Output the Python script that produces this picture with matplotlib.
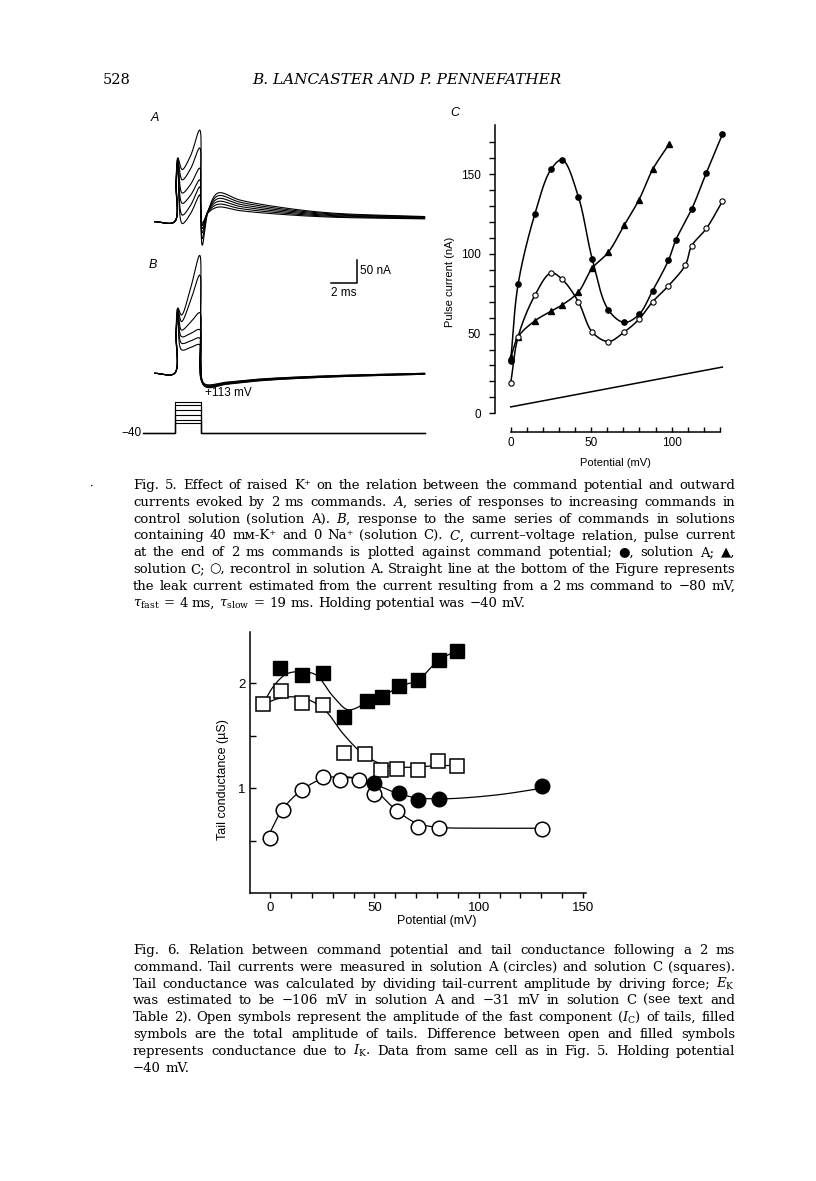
import numpy as np
import matplotlib
matplotlib.use("Agg")
import matplotlib.pyplot as plt

plt.rcParams['mathtext.fontset'] = 'dejavuserif'
plt.rcParams['font.family'] = ['DejaVu Serif', 'DejaVu Sans']

W, H, DPI = 816, 1181, 100
SANS = ['Liberation Sans', 'DejaVu Sans']
SERIF = ['DejaVu Serif', 'DejaVu Sans']

# ---------------- Fig. 5 A / B : current sweeps (nA, from holding current) ----------------
sweep_cmd = [113, 97, 73, 49, 25, 9]          # command potential, mV (holding -40 mV)
a_spike = [136, 133, 130, 126, 122, 118]
a_dip = [111, 89, 61, 39, 14, -4]
a_end = [195, 157, 114, 89, 74, 57]
a_tail_min = [-50, -36, -24, -15, -8, -3]
a_tail_hump = [61, 55, 49, 43, 37, 31]
a_tail_end = [11, 10, 9, 8, 7, 6]

b_spike = [139, 136, 133, 130, 127, 124]
b_dip = [124, 110, 92, 78, 64, 50]
b_end = [251, 209, 129, 93, 75, 61]
b_tail_min = [-27, -26, -25, -24, -23, -22]
b_tail_end = [-2, -2, -1, -1, 0, 0]

# ---------------- Fig. 5 C : pulse current vs potential ----------------
pot_a = [0, 4.6, 15, 25, 32, 42, 50.6, 60.6, 70.5, 79.7, 88.2, 98, 102.7, 112.4, 121.6, 131.5]
cur_a = [33, 81, 125, 153, 159, 136, 97, 65, 57, 62, 77, 96, 109, 128, 151, 175]
pot_c = [0, 4.6, 15, 25, 32, 42, 50.6, 60.6, 70.5, 79.7, 88.2, 98.5]
cur_c = [35, 48, 58, 64, 68, 76, 91, 101, 118, 134, 153, 169]
pot_r = [0, 4.6, 15, 25, 32, 42, 50.6, 60.6, 70.5, 79.7, 88.2, 98, 108.5, 112.4, 121.6, 131.5]
cur_r = [19, 48, 74, 88, 84, 70, 51, 45, 51, 59, 70, 80, 93, 105, 116, 133]
leak_pot = [0, 131.5]
leak_cur = [4, 29]

# ---------------- Fig. 6 : tail conductance ----------------
sq_f_x = [4.8, 15.5, 25.6, 35.6, 46.3, 53.7, 61.7, 70.8, 80.8, 89.5]
sq_f_y = [2.15, 2.08, 2.10, 1.68, 1.83, 1.87, 1.97, 2.03, 2.22, 2.31]
sq_o_x = [-3.5, 5.3, 15.2, 25.6, 35.6, 45.7, 53.0, 61.0, 71.0, 80.7, 89.5]
sq_o_y = [1.80, 1.93, 1.81, 1.79, 1.34, 1.33, 1.17, 1.18, 1.17, 1.26, 1.21]
ci_o_x = [0, 6, 15.3, 25.6, 33.5, 42.8, 49.8, 61, 71, 80.8, 130.2]
ci_o_y = [0.53, 0.79, 0.98, 1.11, 1.08, 1.08, 0.95, 0.78, 0.63, 0.62, 0.61]
ci_f_x = [49.8, 61.7, 71, 80.8, 130.2]
ci_f_y = [1.05, 0.96, 0.89, 0.90, 1.02]

# hand-drawn fit curves (knots)
fit_sq_f_x = [-3.5, 2, 8, 15, 22, 30, 37, 42, 46.3, 53.7, 61.7, 70.8, 80.8, 89.5]
fit_sq_f_y = [1.80, 1.98, 2.09, 2.11, 2.08, 1.88, 1.75, 1.77, 1.83, 1.87, 1.97, 2.03, 2.22, 2.31]
fit_sq_o_x = [-3.5, 5, 12, 20, 27, 35, 45, 55, 65, 75, 89.5]
fit_sq_o_y = [1.80, 1.86, 1.87, 1.83, 1.73, 1.52, 1.32, 1.22, 1.20, 1.21, 1.22]
fit_ci_o_x = [0, 6, 15, 25, 33, 42, 50, 60, 70, 80, 100, 130.2]
fit_ci_o_y = [0.58, 0.80, 0.98, 1.09, 1.11, 1.09, 0.99, 0.80, 0.67, 0.63, 0.62, 0.62]
fit_ci_f_x = [33, 42, 50, 60, 70, 80, 90, 110, 130.2]
fit_ci_f_y = [1.11, 1.09, 1.04, 0.96, 0.91, 0.90, 0.905, 0.94, 1.00]

cap5 = [
    "Fig. 5. Effect of raised K\u207a on the relation between the command potential and outward",
    "currents evoked by 2 ms commands. $A$, series of responses to increasing commands in",
    "control solution (solution A). $B$, response to the same series of commands in solutions",
    "containing 40 m\u1d0d-K\u207a and 0 Na\u207a (solution C). $C$, current\u2013voltage relation, pulse current",
    "at the end of 2 ms commands is plotted against command potential; \u25cf, solution A; \u25b2,",
    "solution C; \u25cb, recontrol in solution A. Straight line at the bottom of the Figure represents",
    "the leak current estimated from the current resulting from a 2 ms command to \u221280 mV,",
    "$\\tau_{\\mathrm{fast}}$ = 4 ms, $\\tau_{\\mathrm{slow}}$ = 19 ms. Holding potential was \u221240 mV.",
]
cap6 = [
    "Fig. 6. Relation between command potential and tail conductance following a 2 ms",
    "command. Tail currents were measured in solution A (circles) and solution C (squares).",
    "Tail conductance was calculated by dividing tail-current amplitude by driving force; $E_{\\mathrm{K}}$",
    "was estimated to be \u2212106 mV in solution A and \u221231 mV in solution C (see text and",
    "Table 2). Open symbols represent the amplitude of the fast component ($I_{\\mathrm{C}}$) of tails, filled",
    "symbols are the total amplitude of tails. Difference between open and filled symbols",
    "represents conductance due to $I_{\\mathrm{K}}$. Data from same cell as in Fig. 5. Holding potential",
    "\u221240 mV.",
]


def smooth(xs, ys, sx=1.0, sy=1.0, n=24):
    # centripetal Catmull-Rom through the knots (computed in page-pixel scale)
    p = np.column_stack([np.asarray(xs, float) * sx, np.asarray(ys, float) * sy])
    p = np.vstack([2 * p[0] - p[1], p, 2 * p[-1] - p[-2]])
    out = []
    for i in range(1, len(p) - 2):
        p0, p1, p2, p3 = p[i - 1], p[i], p[i + 1], p[i + 2]
        t0 = 0.0
        t1 = t0 + max(np.linalg.norm(p1 - p0), 1e-6) ** 0.5
        t2 = t1 + max(np.linalg.norm(p2 - p1), 1e-6) ** 0.5
        t3 = t2 + max(np.linalg.norm(p3 - p2), 1e-6) ** 0.5
        t = np.linspace(t1, t2, n)[:, None]
        a1 = (t1 - t) / (t1 - t0) * p0 + (t - t0) / (t1 - t0) * p1
        a2 = (t2 - t) / (t2 - t1) * p1 + (t - t1) / (t2 - t1) * p2
        a3 = (t3 - t) / (t3 - t2) * p2 + (t - t2) / (t3 - t2) * p3
        b1 = (t2 - t) / (t2 - t0) * a1 + (t - t0) / (t2 - t0) * a2
        b2 = (t3 - t) / (t3 - t1) * a2 + (t - t1) / (t3 - t1) * a3
        c = (t2 - t) / (t2 - t1) * b1 + (t - t1) / (t2 - t1) * b2
        out.append(c if i == 1 else c[1:])
    c = np.vstack(out)
    return c[:, 0] / sx, c[:, 1] / sy


fig = plt.figure(figsize=(W / DPI, H / DPI), dpi=DPI)


def page_axes(x0, y0, x1, y1):
    return fig.add_axes([x0 / W, 1 - y1 / H, (x1 - x0) / W, (y1 - y0) / H])


def ptext(x, y, s, **kw):
    return fig.text(x / W, 1 - y / H, s, **kw)


# header
ptext(103, 84, "528", fontsize=10.5, family=SERIF, va='baseline')
ptext(252, 84, "B. LANCASTER AND P. PENNEFATHER", fontsize=11, family=SERIF,
      style='italic', va='baseline')

# ---------------- traces ----------------
PX_MS, PX_NA, PX_MV = 13.0, 0.47, 0.207
ax_a = page_axes(141.2, 120, 428.5, 250)
ax_a.set_xlim(-2.6, 19.5)
ax_a.set_ylim(-(250 - 221.7) / PX_NA, (221.7 - 120) / PX_NA)
ax_b = page_axes(141.2, 252, 428.5, 392)
ax_b.set_xlim(-2.6, 19.5)
ax_b.set_ylim(-(392 - 373.3) / PX_NA, (373.3 - 252) / PX_NA)
ax_v = page_axes(141.2, 392, 428.5, 442)
ax_v.set_xlim(-2.6, 19.5)
ax_v.set_ylim(-40 - (442 - 433.3) / PX_MV, -40 + (433.3 - 392) / PX_MV)
for ax in (ax_a, ax_b, ax_v):
    ax.axis('off')

for s, d, e, m, hm, late in zip(a_spike, a_dip, a_end, a_tail_min, a_tail_hump, a_tail_end):
    tk = [-1.55, -0.03, 0.08, 0.22, 0.55, 1.2, 1.9, 1.97, 2.1, 2.55, 3.3, 5.0, 8.0, 12.0, 19.2]
    yk = [0, 0, 0.65 * s, s, d, d + 0.35 * (e - d), e, 0.5 * (e + m), m, m + 0.65 * (hm - m), hm,
          late + 0.7 * (hm - late), late + 0.4 * (hm - late), late + 0.15 * (hm - late), late]
    tx, ty = smooth(tk, yk, PX_MS, PX_NA, 16)
    ax_a.plot(tx, ty, color='black', lw=0.8)

for s, d, e, m, late in zip(b_spike, b_dip, b_end, b_tail_min, b_tail_end):
    tk = [-1.55, -0.03, 0.08, 0.22, 0.5, 1.2, 1.9, 1.98, 2.25, 4.0, 6.6, 11.6, 19.2]
    yk = [0, 0, 0.65 * s, s, d, d + 0.45 * (e - d), e, 0.5 * (e + m), m,
          late + 0.85 * (m - late), late + 0.55 * (m - late), late + 0.25 * (m - late), late]
    tx, ty = smooth(tk, yk, PX_MS, PX_NA, 16)
    ax_b.plot(tx, ty, color='black', lw=0.8)

for v in sweep_cmd:
    ax_v.plot([-2.5, 0, 0, 2, 2, 19.2], [-40, -40, v, v, -40, -40], color='black', lw=0.8)

# scale bar
ax_b.plot([12, 14, 14], [192, 192, 242], color='black', lw=1.1)
ax_b.text(14.2, 217, "50 nA", family=SANS, fontsize=8.5, va='center', ha='left')
ax_b.text(12.0, 171, "2 ms", family=SANS, fontsize=8.5, va='center', ha='left')
ax_v.text(2.3, -40 + (433.3 - 393) / PX_MV, "+113 mV", family=SANS, fontsize=8.5,
          va='center', ha='left')
ax_v.text(-2.55, -40, "\u221240", family=SANS, fontsize=8.5, va='center', ha='right')
ptext(155, 118, "A", family=SANS, style='italic', fontsize=9, va='center', ha='center')
ptext(153, 265, "B", family=SANS, style='italic', fontsize=9, va='center', ha='center')
ptext(455, 113, "C", family=SANS, style='italic', fontsize=9, va='center', ha='center')

# ---------------- panel C ----------------
ax_c = page_axes(491.4, 121.6, 724.8, 434.0)
ax_c.set_xlim(-12, 133)
ax_c.set_ylim(-13, 183)
ax_c.patch.set_visible(False)
for k in ('top', 'right'):
    ax_c.spines[k].set_visible(False)
ax_c.spines['left'].set_position(('data', -9.7))
ax_c.spines['left'].set_bounds(0, 181)
ax_c.spines['bottom'].set_position(('data', -11.5))
ax_c.spines['bottom'].set_bounds(0, 130)
for k in ('left', 'bottom'):
    ax_c.spines[k].set_linewidth(1.1)
ax_c.set_yticks([0, 50, 100, 150])
ax_c.set_yticks(np.arange(0, 171, 10), minor=True)
ax_c.set_xticks([0, 50, 100])
ax_c.set_xticks(np.arange(0, 131, 10), minor=True)
ax_c.tick_params(axis='y', which='both', direction='out', length=4, width=1.0, pad=6,
                 labelsize=8.5)
ax_c.tick_params(axis='x', which='both', direction='in', length=3.5, width=1.0, pad=4,
                 labelsize=8.5)
for lab in ax_c.get_xticklabels() + ax_c.get_yticklabels():
    lab.set_family(SANS)

fx, fy = smooth(pot_a, cur_a, 1.61, 1.594)
ax_c.plot(fx, fy, color='black', lw=1.1)
fx, fy = smooth(pot_c, cur_c, 1.61, 1.594)
ax_c.plot(fx, fy, color='black', lw=1.1)
fx, fy = smooth(pot_r, cur_r, 1.61, 1.594)
ax_c.plot(fx, fy, color='black', lw=1.1)
ax_c.plot(leak_pot, leak_cur, color='black', lw=1.1)
ax_c.plot(pot_a, cur_a, 'o', ms=3.8, mfc='black', mec='black', clip_on=False)
ax_c.plot(pot_c, cur_c, '^', ms=4.2, mfc='black', mec='black', clip_on=False)
ax_c.plot(pot_r, cur_r, 'o', ms=3.8, mfc='white', mec='black', mew=0.8, clip_on=False)
ptext(450, 282, "Pulse current (nA)", family=SANS, fontsize=8, rotation=90,
      va='center', ha='center')
ptext(615, 463, "Potential (mV)", family=SANS, fontsize=8, va='center', ha='center')

# ---------------- Fig. 6 ----------------
ax6 = page_axes(250, 631.85, 586, 893.3)
ax6.set_xlim(-9.6, 151.4)
ax6.set_ylim(0, 2.49)
ax6.patch.set_visible(False)
for k in ('top', 'right'):
    ax6.spines[k].set_visible(False)
for k in ('left', 'bottom'):
    ax6.spines[k].set_linewidth(1.1)
ax6.set_xticks([0, 50, 100, 150])
ax6.set_xticks(np.arange(0, 151, 10), minor=True)
ax6.set_yticks([1, 2])
ax6.set_yticks([0.5, 1.5], minor=True)
ax6.tick_params(axis='x', which='both', direction='out', length=3.5, width=1.0, pad=3,
                labelsize=9.5)
ax6.tick_params(axis='y', which='both', direction='in', length=4, width=1.0, pad=3,
                labelsize=9.5)
for lab in ax6.get_xticklabels() + ax6.get_yticklabels():
    lab.set_family(SANS)

for kx, ky in ((fit_sq_f_x, fit_sq_f_y), (fit_sq_o_x, fit_sq_o_y),
               (fit_ci_o_x, fit_ci_o_y), (fit_ci_f_x, fit_ci_f_y)):
    fx, fy = smooth(kx, ky, 2.087, 105)
    ax6.plot(fx, fy, color='black', lw=0.9)
ax6.plot(sq_o_x, sq_o_y, 's', ms=9.5, mfc='white', mec='black', mew=1.1, clip_on=False)
ax6.plot(sq_f_x, sq_f_y, 's', ms=9.5, mfc='black', mec='black', clip_on=False)
ax6.plot(ci_o_x, ci_o_y, 'o', ms=10.5, mfc='white', mec='black', mew=1.1, clip_on=False)
ax6.plot(ci_f_x, ci_f_y, 'o', ms=10.5, mfc='black', mec='black', clip_on=False)
ptext(223, 780, "Tail conductance (\u00b5S)", family=SANS, fontsize=9, rotation=90,
      va='center', ha='center')
ptext(437, 921, "Potential (mV)", family=SANS, fontsize=9, va='center', ha='center')

# ---------------- captions (justified) ----------------
renderer = fig.canvas.get_renderer()


def caption(lines, x0, x1, y0, dy, size):
    for i, line in enumerate(lines):
        words = line.split(' ')
        texts = [ptext(0, 0, w, fontsize=size, family=SERIF, va='baseline') for w in words]
        widths = [t.get_window_extent(renderer).width for t in texts]
        if i == len(lines) - 1:
            gap = 0.32 * size * DPI / 72
        else:
            gap = (x1 - x0 - sum(widths)) / (len(words) - 1)
        x = x0
        for t, wd in zip(texts, widths):
            t.set_position((x / W, 1 - (y0 + i * dy) / H))
            x += wd + gap


caption(cap5, 133, 735, 489, 16.8, 9.5)
caption(cap6, 133, 735, 954, 16.8, 9.5)
ptext(92, 487, "\u00b7", fontsize=8, va='center', ha='center')

fig.savefig("out.png", dpi=DPI)
